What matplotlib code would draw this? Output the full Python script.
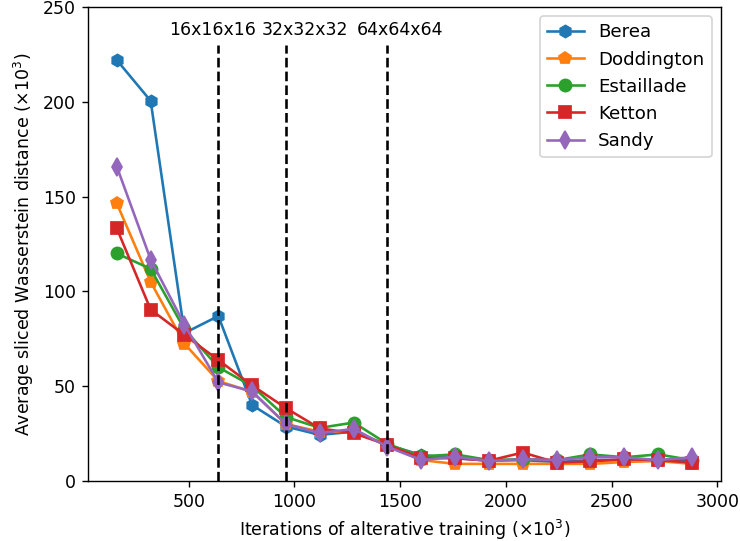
import matplotlib
matplotlib.use("Agg")
import matplotlib.pyplot as plt

iterations = [160, 320, 480, 640, 800, 960, 1120, 1280, 1440, 1600, 1760, 1920, 2080, 2240, 2400, 2560, 2720, 2880]

berea      = [222, 200.5, 78, 87, 40, 28.7, 24.3, 26, 19, 13.7, 12, 10.7, 11, 10, 11, 11, 11, 11]
doddington = [146.4, 105, 72.4, 52.7, 47, 30, 26, 26, 19, 11, 9, 9, 9, 9, 9, 10, 10.5, 9]
estaillade = [120, 111.9, 80, 60, 50, 33.7, 28, 30.8, 19.5, 13, 14, 11, 11.5, 11, 14, 12.5, 14, 11]
ketton     = [133.2, 90.4, 77, 63.8, 50.4, 38.4, 27.7, 25.2, 19, 12, 12, 10.7, 15, 9.7, 10.3, 11.5, 11, 9.7]
sandy      = [165.8, 116.8, 82.4, 52, 47.2, 30, 25.2, 27.5, 18, 11, 12.8, 10.5, 11.5, 11, 12.5, 12.5, 11, 12.5]

series = [("Berea", berea, "h"), ("Doddington", doddington, "p"),
          ("Estaillade", estaillade, "o"), ("Ketton", ketton, "s"),
          ("Sandy", sandy, "d")]

stage_x = [640, 960, 1440]
stage_labels = ["16x16x16", "32x32x32", "64x64x64"]
stage_label_x = [406, 843, 1294]

fig = plt.figure(figsize=(5.92, 4.328), dpi=125)
ax = fig.add_axes([0.119, 0.111, 0.855, 0.876])

for name, vals, mk in series:
    ax.plot(iterations, vals, marker=mk, markersize=7, label=name)

for xs, lab, tx in zip(stage_x, stage_labels, stage_label_x):
    ax.vlines(xs, 0, 230, colors="black", linestyles="dashed", linewidth=1.5)
    ax.text(tx, 238, lab, ha="left", va="center")

ax.set_ylim(0, 250)
ax.set_xticks([500, 1000, 1500, 2000, 2500, 3000])
ax.set_xlabel(r"Iterations of alterative training ($\times 10^3$)")
ax.set_ylabel(r"Average sliced Wasserstein distance ($\times 10^3$)")
ax.legend(loc="upper right", fontsize=10.5)

fig.savefig("out.png", dpi=125)
